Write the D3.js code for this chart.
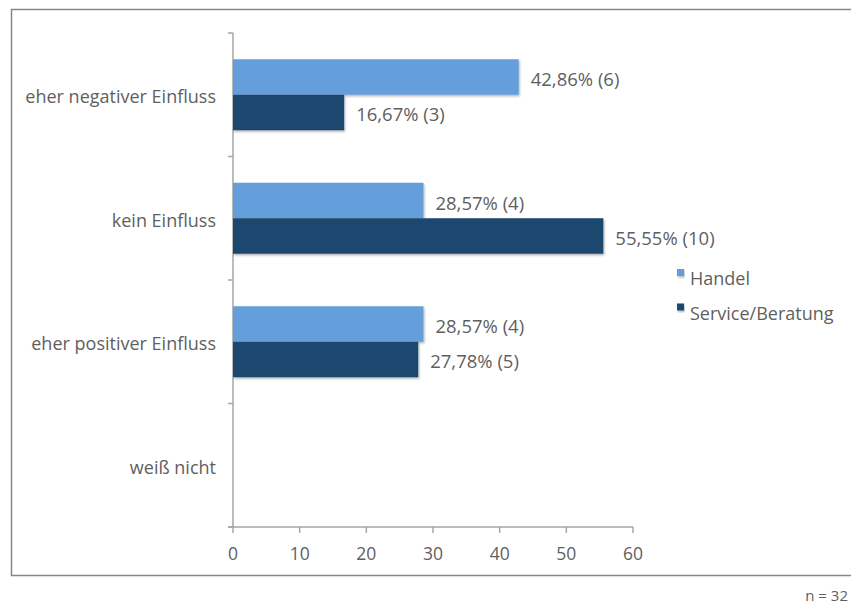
<!DOCTYPE html>
<html><head><meta charset="utf-8">
<script src="https://cdn.jsdelivr.net/npm/d3@7"></script>
<style>body{margin:0;background:#fff}text{font-family:"Open Sans","Noto Sans",sans-serif}</style>
</head><body><svg id="c" width="851" height="604"></svg>
<script>
const categories = ["eher negativer Einfluss","kein Einfluss","eher positiver Einfluss","weiß nicht"];
const seriesNames = ["Handel","Service/Beratung"];
const handel = [42.86, 28.57, 28.57, null];
const service = [16.67, 55.55, 27.78, null];
const handelLabels = ["42,86% (6)","28,57% (4)","28,57% (4)",""];
const serviceLabels = ["16,67% (3)","55,55% (10)","27,78% (5)",""];
const xTicks = [0,10,20,30,40,50,60];
const colors = ["#659fdb","#1a466e"];
const footnote = "n = 32";

const svg = d3.select("#c");
const defs = svg.append("defs");
const f = defs.append("filter").attr("id","sh").attr("x","-5%").attr("y","-10%").attr("width","115%").attr("height","140%");
f.append("feDropShadow").attr("dx",1).attr("dy",1.5).attr("stdDeviation",1.2).attr("flood-color","#000").attr("flood-opacity",0.3);

// outer frame
svg.append("path").attr("d","M852,9.5H11.5V575.5H852").attr("fill","none").attr("stroke","#868686").attr("stroke-width",1.5);

const x = d3.scaleLinear().domain([0,60]).range([233,633]);
const y = d3.scaleBand().domain(categories).range([33,527]);
const sub = d3.scaleBand().domain(seriesNames).range([0,y.bandwidth()]).paddingOuter(0.74).paddingInner(0);

const gray="#a6a6a6", txt="#5f5f5f";
svg.append("line").attr("x1",233).attr("x2",233).attr("y1",33).attr("y2",527).attr("stroke",gray).attr("stroke-width",1.5);
svg.append("line").attr("x1",228).attr("x2",633).attr("y1",527).attr("y2",527).attr("stroke",gray).attr("stroke-width",1.5);
const yb = categories.map(c=>y(c)).concat([527]);
svg.selectAll(".yt").data(yb).enter().append("line").attr("x1",228).attr("x2",233).attr("y1",d=>d).attr("y2",d=>d).attr("stroke",gray).attr("stroke-width",1.5);
svg.selectAll(".xt").data(xTicks).enter().append("line").attr("x1",d=>x(d)).attr("x2",d=>x(d)).attr("y1",527).attr("y2",533).attr("stroke",gray).attr("stroke-width",1.5);
svg.selectAll(".xl").data(xTicks).enter().append("text").attr("x",d=>x(d)).attr("y",560).attr("text-anchor","middle").attr("font-size",17.5).attr("fill",txt).text(d=>d);

svg.selectAll(".cl").data(categories).enter().append("text").attr("x",216).attr("y",d=>y(d)+y.bandwidth()/2+8.5).attr("text-anchor","end").attr("font-size",18).attr("fill",txt).text(d=>d);

const series = [handel, service];
const labels = [handelLabels, serviceLabels];
series.forEach((vals,si)=>{
  const g = svg.append("g");
  categories.forEach((c,i)=>{
    if(vals[i]==null) return;
    const y0 = y(c)+sub(seriesNames[si]);
    g.append("rect").attr("x",x(0)).attr("y",y0).attr("width",x(vals[i])-x(0)).attr("height",sub.bandwidth()).attr("fill",colors[si]).attr("filter","url(#sh)");
    svg.append("text").attr("x",x(vals[i])+12).attr("y",y0+sub.bandwidth()/2+9).attr("font-size",18.5).attr("fill",txt).text(labels[si][i]);
  });
});

const lg = svg.append("g");
seriesNames.forEach((s,i)=>{
  const yy = 269 + i*34.5;
  lg.append("rect").attr("x",677).attr("y",yy).attr("width",7).attr("height",7).attr("fill",colors[i]).attr("filter","url(#sh)");
  lg.append("text").attr("x",690).attr("y",yy+16).attr("font-size",18).attr("fill",txt).text(s);
});

svg.append("text").attr("x",848).attr("y",601).attr("text-anchor","end").attr("font-size",15).attr("fill",txt).text(footnote);
</script></body></html>
